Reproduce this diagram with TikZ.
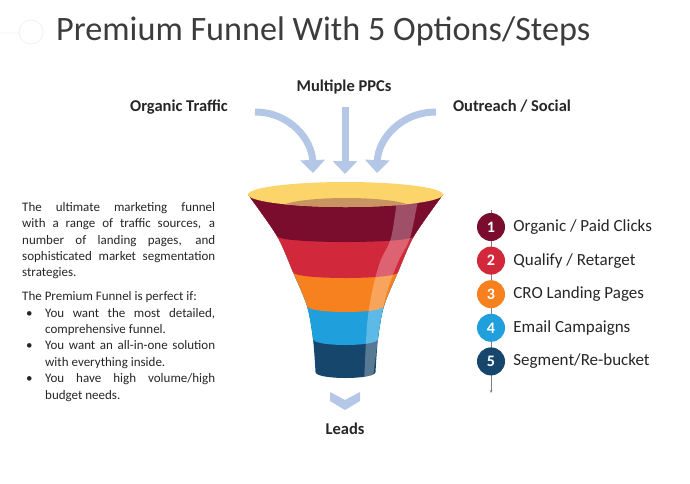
\documentclass[tikz,border=0pt]{standalone}
\usepackage{fontspec}
\setmainfont{Carlito}
\usetikzlibrary{arrows.meta,positioning}
\definecolor{fbMaroon}{HTML}{7A0C2E}
\definecolor{fbRed}{HTML}{D2283C}
\definecolor{fbOrange}{HTML}{F7811E}
\definecolor{fbBlue}{HTML}{1F9FDB}
\definecolor{fbNavy}{HTML}{17466C}
\definecolor{fbYellow}{HTML}{FCD56A}
\definecolor{fbBrown}{HTML}{C89462}
\definecolor{fbArrow}{HTML}{B4C7E7}
\definecolor{fbText}{HTML}{262626}
\newcommand{\fbitem}{\par\noindent\hangindent=23pt\hangafter=1\makebox[23pt][l]{\hspace{4pt}\textbullet}}
\tikzset{
  feed/.style={line width=7pt,fbArrow,-{Triangle[width=24pt,length=13pt]}},
  srclabel/.style={font=\bfseries\fontsize{16.5}{18}\selectfont,text=fbText,inner sep=0,anchor=base},
  numdot/.style={circle,minimum size=28pt,inner sep=0,text=white,font=\bfseries\fontsize{16}{18}\selectfont},
  listlabel/.style={font=\fontsize{17}{19}\selectfont,text=fbText,inner sep=0,anchor=west}
}
\begin{document}
\begin{tikzpicture}[x=1pt,y=-1pt,>=stealth]
\useasboundingbox (0,0) rectangle (690,483);
\draw[gray!12,line width=0.8pt] (0,33)--(19,33) (31,32) circle(12);
\node[anchor=base west,inner sep=0,text=fbText!90,font=\fontsize{34.2}{38}\selectfont] (title) at (56,40) {Premium Funnel With 5 Options/Steps};
\node[srclabel] (ppc) at (344,91) {Multiple PPCs};
\node[srclabel] (organic) at (179,111) {Organic Traffic};
\node[srclabel] (outreach) at (512,111) {Outreach / Social};
\coordinate (orgstart) at (255,112);
\coordinate (orgend) at (313,173);
\coordinate (ppcstart) at (345,107);
\coordinate (ppcend) at (345,174);
\coordinate (outstart) at (436,112);
\coordinate (outend) at (377,173);
\draw[feed] (orgstart) .. controls (290,112) and (312,140) .. (orgend);
\draw[feed] (ppcstart) -- (ppcend);
\draw[feed] (outstart) .. controls (400,112) and (378,140) .. (outend);
\begin{scope}
  \clip plot[smooth] coordinates {(248,194.5) (277,236) (293,272) (307,306) (313,339) (315.5,372)}
    .. controls (315.5,380) and (375.5,380) .. (375.5,372)
    -- plot[smooth] coordinates {(375.5,372) (378,339) (384,306) (398,272) (414,236) (443,194.5)} -- cycle;
  \fill[fbNavy] (200,150) rectangle (500,400);
  \foreach \ey/\hw/\col in {339/32.5/fbBlue,306/38.5/fbOrange,272/52.5/fbRed,236/68.5/fbMaroon}
    \fill[\col] (200,150) -- (200,\ey) -- ({345.5-\hw},\ey)
      .. controls ({345.5-\hw},{\ey+8}) and ({345.5+\hw},{\ey+8}) .. ({345.5+\hw},\ey)
      -- (500,\ey) -- (500,150) -- cycle;
  \fill[white,opacity=0.28] plot[smooth] coordinates {(397,200) (391,238) (380,262) (372,292) (367,325) (364,385)}
    -- plot[smooth] coordinates {(372,385) (380,325) (387,292) (398,262) (410,238) (418,200)} -- cycle;
\end{scope}
\fill[fbYellow] (345.5,194.5) ellipse [x radius=97.5,y radius=12.5];
\begin{scope}
  \clip (345.5,194.5) ellipse [x radius=97.5,y radius=12.5];
  \fill[fbBrown] (346,208) ellipse [x radius=66,y radius=10];
\end{scope}
\fill[fbArrow] (330,392) -- (345,400) -- (360,392) -- (360,401) -- (345,410) -- (330,401) -- cycle;
\node[srclabel] (leads) at (345,434) {Leads};
\node[anchor=north west,inner sep=0,text width=193pt,align=justify,text=fbText,font=\fontsize{13}{16.4}\selectfont] (desc) at (22,202) {%
The ultimate marketing funnel\linebreak
with a range of traffic sources, a\linebreak
number of landing pages, and\linebreak
sophisticated market segmentation\linebreak
strategies.\par\vspace{7.5pt}
\noindent The Premium Funnel is perfect if:
\fbitem You want the most detailed,\linebreak comprehensive funnel.
\fbitem You want an all-in-one solution\linebreak with everything inside.
\fbitem You have high volume/high\linebreak budget needs.\par};
\coordinate (listtop) at (491,210);
\coordinate (listend) at (491,393);
\draw[gray,->] (listtop) -- (listend);
\foreach \lbl/\col [count=\i] in {{Organic / Paid Clicks}/fbMaroon,{Qualify / Retarget}/fbRed,{CRO Landing Pages}/fbOrange,{Email Campaigns}/fbBlue,{Segment/Re-bucket}/fbNavy}{
  \node[numdot,fill=\col] (num\i) at (491,{227+33.6*(\i-1)}) {\i};
  \node[listlabel,right=8pt of num\i] (item\i) {\lbl};
}
\end{tikzpicture}
\end{document}
